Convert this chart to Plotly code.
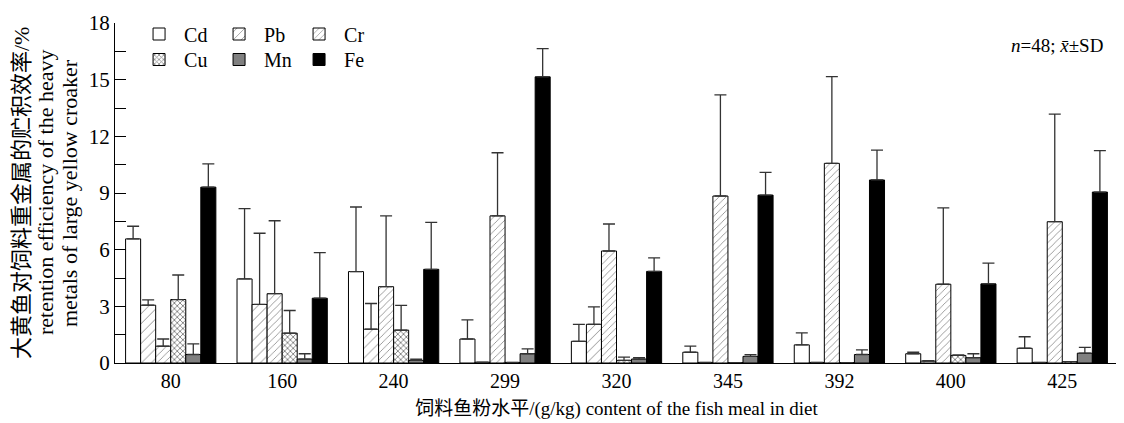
import plotly.graph_objects as go

categories = ["80", "160", "240", "299", "320", "345", "392", "400", "425"]

cd_mean = [6.57, 4.45, 4.84, 1.27, 1.15, 0.57, 0.96, 0.49, 0.78]
cd_sd = [0.67, 3.72, 3.42, 1.01, 0.90, 0.32, 0.64, 0.08, 0.61]
pb_mean = [3.06, 3.10, 1.79, 0.04, 2.05, 0.03, 0.03, 0.10, 0.03]
pb_sd = [0.28, 3.77, 1.36, 0.0, 0.92, 0.0, 0.0, 0.02, 0.0]
cr_mean = [0.89, 3.67, 4.04, 7.79, 5.93, 8.84, 10.57, 4.17, 7.48]
cr_sd = [0.38, 3.86, 3.75, 3.34, 1.43, 5.35, 4.59, 4.04, 5.70]
cu_mean = [3.36, 1.58, 1.74, 0.03, 0.14, 0.02, 0.02, 0.40, 0.07]
cu_sd = [1.30, 1.20, 1.31, 0.0, 0.17, 0.0, 0.0, 0.03, 0.0]
mn_mean = [0.45, 0.21, 0.14, 0.49, 0.21, 0.35, 0.45, 0.28, 0.52]
mn_sd = [0.56, 0.28, 0.07, 0.26, 0.07, 0.09, 0.25, 0.21, 0.31]
fe_mean = [9.31, 3.43, 4.96, 15.15, 4.85, 8.89, 9.69, 4.19, 9.05]
fe_sd = [1.23, 2.41, 2.48, 1.49, 0.72, 1.20, 1.58, 1.10, 2.19]

y_title_lines = ["大黄鱼对饲料重金属的贮积效率/%",
                 "retention efficiency of the heavy",
                 "metals of large yellow croaker"]
x_title = "饲料鱼粉水平/(g/kg) content of the fish meal in diet"

series = [
    ("Cd", cd_mean, cd_sd, "white", None, "legend"),
    ("Pb", pb_mean, pb_sd, "white", dict(shape="/", size=7, solidity=0.12, fgcolor="black", bgcolor="white"), "legend"),
    ("Cr", cr_mean, cr_sd, "white", dict(shape="/", size=5, solidity=0.15, fgcolor="black", bgcolor="white"), "legend"),
    ("Cu", cu_mean, cu_sd, "white", dict(shape="x", size=4, solidity=0.4, fgcolor="black", bgcolor="white"), "legend2"),
    ("Mn", mn_mean, mn_sd, "#808080", None, "legend2"),
    ("Fe", fe_mean, fe_sd, "black", None, "legend2"),
]

FONT = "Liberation Serif, Times New Roman, Noto Sans CJK SC, serif"

fig = go.Figure()
for name, mean, sd, color, pattern, leg in series:
    marker = dict(color=color, line=dict(color="black", width=1))
    if pattern:
        marker["pattern"] = pattern
    fig.add_trace(go.Bar(
        name=name, x=categories, y=mean, marker=marker, legend=leg,
        error_y=dict(type="data", symmetric=False, array=sd,
                     arrayminus=[0] * len(sd), color="#333333",
                     thickness=1.3, width=6),
    ))

leg_common = dict(orientation="h", xanchor="left", yanchor="top",
                  entrywidth=25, entrywidthmode="pixels", itemwidth=40,
                  font=dict(size=20, family=FONT), bgcolor="rgba(0,0,0,0)",
                  tracegroupgap=0)

annots = [dict(
    text="<i>n</i>=48; <i>x̄</i>±SD", x=0.987, y=0.935,
    xref="paper", yref="paper", xanchor="right", yanchor="middle",
    showarrow=False, font=dict(size=19, family=FONT))]
for line, shift, size in zip(y_title_lines, [-94, -70, -46], [22, 22, 22]):
    annots.append(dict(
        text=line, x=0, y=0.5, xref="paper", yref="paper",
        xshift=shift, xanchor="center", yanchor="middle", textangle=-90,
        showarrow=False, font=dict(size=size, family=FONT)))

fig.update_layout(
    width=1116, height=415,
    barmode="group", bargap=0.19, bargroupgap=0,
    plot_bgcolor="white", paper_bgcolor="white",
    margin=dict(l=107, r=6, t=8, b=60),
    font=dict(family=FONT, size=18, color="black"),
    legend=dict(x=0.019, y=1.025, **leg_common),
    legend2=dict(x=0.019, y=0.95, **leg_common),
    annotations=annots,
)

fig.update_xaxes(
    type="category", showline=True, linecolor="black", linewidth=1.2,
    ticks="", showgrid=False, tickfont=dict(size=20, family=FONT),
    automargin=False,
    title=dict(text=x_title, font=dict(size=19, family=FONT), standoff=10),
)
fig.update_yaxes(
    range=[0, 18], tickvals=[0, 3, 6, 9, 12, 15, 18], showline=True,
    linecolor="black", linewidth=1.2, ticks="inside", ticklen=11,
    tickcolor="black", showgrid=False, zeroline=False, automargin=False,
    minor=dict(tickvals=[1.5, 4.5, 7.5, 10.5, 13.5, 16.5], ticks="inside",
               ticklen=11, tickcolor="black"),
    tickfont=dict(size=21, family=FONT),
)

fig.write_html("out.html")
